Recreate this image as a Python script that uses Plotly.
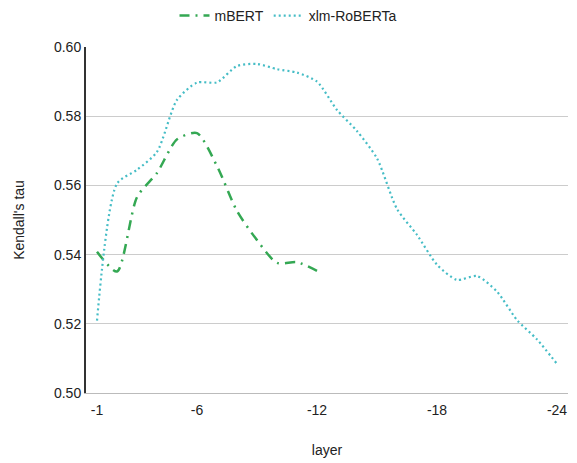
import plotly.graph_objects as go

layers = [f"-{i}" for i in range(1, 25)]
mbert = [0.5408, 0.5351, 0.5566, 0.5636, 0.5733, 0.5751, 0.5656, 0.5526,
         0.5442, 0.5376, 0.5378, 0.5353]
xlmr = [0.5209, 0.5605, 0.5645, 0.5697, 0.5847, 0.5897, 0.5898, 0.5945,
        0.5951, 0.5936, 0.5926, 0.5900, 0.5818, 0.5757, 0.5678, 0.5532,
        0.5457, 0.5371, 0.5327, 0.5338, 0.5293, 0.5211, 0.5155, 0.5084]
tick_labels = ["-1", "-6", "-12", "-18", "-24"]
y_ticks = [0.50, 0.52, 0.54, 0.56, 0.58, 0.60]

FONT = "Liberation Sans, Arial, sans-serif"
TXT = "#222222"

fig = go.Figure()
fig.add_trace(go.Scatter(
    x=layers[:len(mbert)], y=mbert, name="mBERT", mode="lines",
    line=dict(color="#34a853", width=2.5, dash="10px,6px,2px,6px", shape="spline", smoothing=0.7),
))
fig.add_trace(go.Scatter(
    x=layers, y=xlmr, name="xlm-RoBERTa", mode="lines",
    line=dict(color="#46bdc6", width=2.2, dash="2px,3px", shape="spline", smoothing=0.7),
))

fig.update_layout(
    width=577, height=463,
    margin=dict(l=86, r=9, t=47, b=70),
    paper_bgcolor="white", plot_bgcolor="white",
    font=dict(family=FONT, size=14, color=TXT),
    legend=dict(orientation="h", x=0.5, xanchor="center", xref="container",
                y=1.0, yanchor="top", yref="container",
                font=dict(family=FONT, size=14, color=TXT), itemwidth=30),
    xaxis=dict(type="category", categoryorder="array", categoryarray=layers,
               range=[-0.55, 23.55], tickmode="array", tickvals=tick_labels,
               ticktext=tick_labels, showgrid=False, showline=True, automargin=False,
               linecolor="#bbbbbb", linewidth=1, ticks="", ticklabelstandoff=4,
               title=dict(text="layer", font=dict(family=FONT, size=14, color=TXT), standoff=28),
               tickfont=dict(family=FONT, size=14, color=TXT)),
    yaxis=dict(range=[0.50, 0.60], tickvals=y_ticks, tickformat=".2f", automargin=False,
               showgrid=True, gridcolor="#cccccc", gridwidth=1,
               showline=True, linecolor="#333333", linewidth=2, zeroline=False,
               ticks="", title=dict(text="Kendall's tau", font=dict(family=FONT, size=14, color=TXT), standoff=26),
               tickfont=dict(family=FONT, size=14, color=TXT)),
)
fig.write_html("out.html")
